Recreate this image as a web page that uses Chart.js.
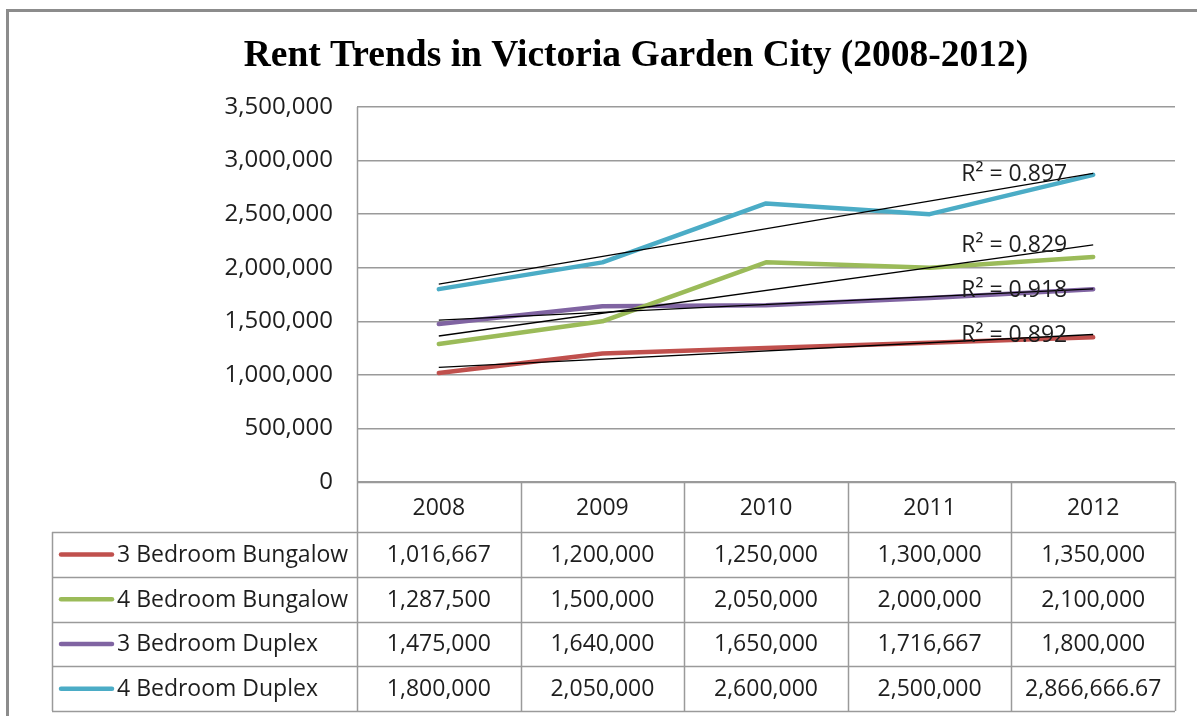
<!DOCTYPE html>
<html>
<head>
<meta charset="utf-8">
<title>Rent Trends in Victoria Garden City</title>
<script src="https://cdn.jsdelivr.net/npm/chart.js@4.4.1/dist/chart.umd.min.js"></script>
<style>
  html, body { margin: 0; padding: 0; background: #fff; }
  #rentChart { display: block; }
</style>
</head>
<body>
<canvas id="rentChart" width="1197" height="716"></canvas>
<script>
const years = ['2008', '2009', '2010', '2011', '2012'];
const bungalow3 = [1016667, 1200000, 1250000, 1300000, 1350000];
const bungalow4 = [1287500, 1500000, 2050000, 2000000, 2100000];
const duplex3 = [1475000, 1640000, 1650000, 1716667, 1800000];
const duplex4 = [1800000, 2050000, 2600000, 2500000, 2866666.67];
const seriesNames = ['3 Bedroom Bungalow', '4 Bedroom Bungalow', '3 Bedroom Duplex', '4 Bedroom Duplex'];
const seriesColors = ['#C0504D', '#9BBB59', '#8064A2', '#4BACC6'];
const rSquared = ['0.892', '0.829', '0.918', '0.897'];
const yMax = 3500000;
const yStep = 500000;

const FONT = '"Open Sans", "DejaVu Sans", sans-serif';
const TEXT = '#1e1e1e';
const GRID = '#9a9a9a';

// table geometry
const legendLeft = 52;
const headerH = 50;
const rowH = 44.75;

const fmt = v => v.toLocaleString('en-US', { maximumFractionDigits: 2 });

// least squares line over x = 0..n-1, like Excel's linear trendline
function linFit(vals) {
  const n = vals.length;
  const mx = (n - 1) / 2;
  const my = vals.reduce((a, b) => a + b, 0) / n;
  let sxy = 0, sxx = 0;
  vals.forEach((v, i) => { sxy += (i - mx) * (v - my); sxx += (i - mx) * (i - mx); });
  const slope = sxy / sxx;
  return i => my + slope * (i - mx);
}

const framePlugin = {
  id: 'frame',
  beforeDraw(chart) {
    const ctx = chart.ctx;
    ctx.save();
    ctx.fillStyle = '#fff';
    ctx.fillRect(0, 0, chart.width, chart.height);
    ctx.strokeStyle = '#8c8c8c';
    ctx.lineWidth = 3;
    ctx.beginPath();
    ctx.moveTo(7.5, chart.height);
    ctx.lineTo(7.5, 10.5);
    ctx.lineTo(chart.width, 10.5);
    ctx.stroke();

    ctx.fillStyle = '#000';
    ctx.font = 'bold 37.5px "Liberation Serif", "Times New Roman", serif';
    ctx.textAlign = 'center';
    ctx.textBaseline = 'alphabetic';
    ctx.fillText('Rent Trends in Victoria Garden City (2008-2012)', 636, 66);
    ctx.restore();
  }
};

const trendPlugin = {
  id: 'trend',
  afterDatasetsDraw(chart) {
    const ctx = chart.ctx;
    const xs = chart.scales.x, ys = chart.scales.y;
    ctx.save();
    chart.data.datasets.forEach((ds, k) => {
      const f = linFit(ds.data);
      const last = ds.data.length - 1;
      const x0 = xs.getPixelForValue(0), x1 = xs.getPixelForValue(last);
      const y0 = ys.getPixelForValue(f(0)), y1 = ys.getPixelForValue(f(last));
      ctx.strokeStyle = '#000';
      ctx.lineWidth = 1.3;
      ctx.beginPath();
      ctx.moveTo(x0, y0);
      ctx.lineTo(x1, y1);
      ctx.stroke();

      ctx.fillStyle = TEXT;
      ctx.font = '23px ' + FONT;
      ctx.textAlign = 'right';
      ctx.textBaseline = 'middle';
      ctx.fillText('R² = ' + rSquared[k], x1 - 26, y1 + 1);
    });
    ctx.restore();
  }
};

const tablePlugin = {
  id: 'dataTable',
  afterDraw(chart) {
    const ctx = chart.ctx;
    const area = chart.chartArea;
    const xs = chart.scales.x;
    const colW = xs.getPixelForValue(1) - xs.getPixelForValue(0);
    const top = area.bottom;
    const bodyTop = top + headerH;
    const bottom = bodyTop + rowH * seriesNames.length;
    const px = v => Math.round(v) + 0.5;

    ctx.save();
    ctx.strokeStyle = GRID;
    ctx.lineWidth = 1.5;
    ctx.beginPath();
    // axis line continues down through the table
    ctx.moveTo(px(area.left), area.top);
    ctx.lineTo(px(area.left), bottom);
    ctx.moveTo(area.left, px(top));
    ctx.lineTo(area.right, px(top));
    for (let r = 0; r <= seriesNames.length; r++) {
      const y = px(bodyTop + r * rowH);
      ctx.moveTo(legendLeft, y);
      ctx.lineTo(area.right, y);
    }
    ctx.moveTo(px(legendLeft), bodyTop);
    ctx.lineTo(px(legendLeft), bottom);
    for (let i = 1; i <= years.length; i++) {
      const x = px(xs.getPixelForValue(i) - colW / 2);
      ctx.moveTo(x, top);
      ctx.lineTo(x, bottom);
    }
    ctx.stroke();

    ctx.fillStyle = TEXT;
    ctx.font = '23px ' + FONT;
    ctx.textAlign = 'center';
    ctx.textBaseline = 'middle';
    years.forEach((yr, i) => ctx.fillText(yr, xs.getPixelForValue(i), top + headerH / 2 + 1));

    chart.data.datasets.forEach((ds, r) => {
      const cy = bodyTop + r * rowH + rowH / 2 + 1;
      ctx.strokeStyle = seriesColors[r];
      ctx.lineWidth = 4.5;
      ctx.lineCap = 'round';
      ctx.beginPath();
      ctx.moveTo(61, cy - 1);
      ctx.lineTo(112, cy - 1);
      ctx.stroke();

      ctx.textAlign = 'left';
      ctx.fillText(ds.label, 117, cy);
      ctx.textAlign = 'center';
      ds.data.forEach((v, i) => ctx.fillText(fmt(v), xs.getPixelForValue(i), cy));
    });
    ctx.restore();
  }
};

const seriesData = [bungalow3, bungalow4, duplex3, duplex4];

new Chart(document.getElementById('rentChart'), {
  type: 'line',
  data: {
    labels: years,
    datasets: seriesData.map((d, i) => ({
      label: seriesNames[i],
      data: d,
      borderColor: seriesColors[i],
      backgroundColor: seriesColors[i],
      borderWidth: 4.5,
      borderJoinStyle: 'round',
      borderCapStyle: 'round',
      pointRadius: 0,
      tension: 0
    }))
  },
  options: {
    responsive: false,
    animation: false,
    layout: { padding: { top: 107, right: 22, left: 0, bottom: 0 } },
    plugins: {
      legend: { display: false },
      title: { display: false },
      tooltip: { enabled: false }
    },
    scales: {
      x: {
        offset: true,
        grid: { display: false },
        border: { display: false },
        ticks: { display: false },
        afterFit: s => { s.height = 234; }
      },
      y: {
        min: 0,
        max: yMax,
        grid: { color: GRID, lineWidth: 1.5, drawTicks: false },
        border: { display: false },
        ticks: {
          stepSize: yStep,
          padding: 24,
          color: TEXT,
          font: { family: FONT, size: 24 },
          callback: v => fmt(v)
        },
        afterFit: s => { s.width = 357; }
      }
    }
  },
  plugins: [framePlugin, trendPlugin, tablePlugin]
});
</script>
</body>
</html>
